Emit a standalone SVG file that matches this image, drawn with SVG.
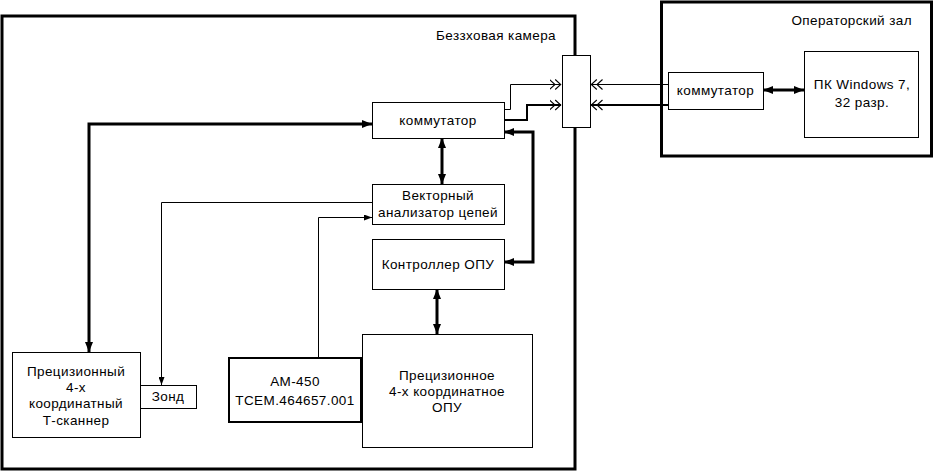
<svg xmlns="http://www.w3.org/2000/svg" width="934" height="473" viewBox="0 0 934 473">
<style>
text{font-family:"Liberation Sans",Arial,sans-serif;font-size:13.5px;letter-spacing:0.4px;fill:#000;text-anchor:middle}
.lbl{text-anchor:end}
.frame{fill:none;stroke:#000;stroke-width:3}
.box{fill:#fff;stroke:#000;stroke-width:1}
.thin{fill:none;stroke:#000;stroke-width:1}
.mid{fill:none;stroke:#000;stroke-width:2}
.thick{fill:none;stroke:#000;stroke-width:3}
</style>
<defs>
<marker id="arr" viewBox="0 0 10 8" refX="10" refY="4" markerWidth="10" markerHeight="8" markerUnits="userSpaceOnUse" orient="auto-start-reverse">
<path d="M0,0 L10,4 L0,8 z" fill="#000"/>
</marker>
<marker id="arrs" viewBox="0 0 8 6" refX="8" refY="3" markerWidth="8" markerHeight="6" markerUnits="userSpaceOnUse" orient="auto-start-reverse">
<path d="M0,0 L8,3 L0,6 z" fill="#000"/>
</marker>
<marker id="chev" viewBox="0 -6 12 12" refX="11.5" refY="0" markerWidth="12" markerHeight="12" markerUnits="userSpaceOnUse" orient="auto">
<path d="M0,-5 L5.5,0 L0,5 M5.7,-5 L11.2,0 L5.7,5" fill="none" stroke="#000" stroke-width="1.1"/>
</marker>
</defs>

<g id="frame-chamber">
<rect class="frame" x="2" y="16" width="573" height="453"/>
<text class="lbl" x="556" y="40">Беззховая камера</text>
</g>
<g id="frame-operator">
<rect class="frame" x="661.5" y="2" width="270" height="154"/>
<text class="lbl" x="912" y="25">Операторский зал</text>
</g>

<g id="connectors">
<path class="thick" d="M372,124 H89 V352" marker-start="url(#arr)" marker-end="url(#arr)"/>
<path class="thick" d="M442,138 V184" marker-start="url(#arr)" marker-end="url(#arr)"/>
<path class="thick" d="M504,132 H533 V262 H504" marker-start="url(#arr)" marker-end="url(#arr)"/>
<path class="thick" d="M437,289 V334" marker-start="url(#arr)" marker-end="url(#arr)"/>
<path class="thick" d="M763,90 H804" marker-start="url(#arr)" marker-end="url(#arr)"/>
<path class="thin" d="M372,202.5 H161.5 V385" marker-end="url(#arrs)"/>
<path class="thin" d="M318.5,358 V217.5 H372" marker-end="url(#arrs)"/>
<path class="thin" d="M504,109.5 H510.5 V84.5 H561" marker-end="url(#chev)"/>
<path class="mid" d="M504,120 H527 V105 H561" marker-end="url(#chev)"/>
<path class="thin" d="M668,84.5 H591" marker-end="url(#chev)"/>
<path class="mid" d="M668,105 H591" marker-end="url(#chev)"/>
</g>

<g id="feedthrough">
<rect class="box" x="562.5" y="55.5" width="28" height="72"/>
</g>

<g id="switch-op">
<rect class="box" x="668.5" y="72.5" width="95" height="37"/>
<text x="715.5" y="95">коммутатор</text>
</g>
<g id="pc">
<rect class="box" x="804.5" y="51.5" width="114" height="86"/>
<text x="862" y="89">ПК Windows 7,</text>
<text x="862" y="107">32 разр.</text>
</g>

<g id="switch">
<rect class="box" x="372.5" y="102.5" width="132" height="36"/>
<text x="438" y="125">коммутатор</text>
</g>
<g id="vna">
<rect class="box" x="372.5" y="184.5" width="132" height="40"/>
<text x="438" y="200">Векторный</text>
<text x="438" y="217">анализатор цепей</text>
</g>
<g id="controller">
<rect class="box" x="372.5" y="239.5" width="132" height="50"/>
<text x="438" y="269">Контроллер ОПУ</text>
</g>
<g id="opu">
<rect class="box" x="362.5" y="334.5" width="170" height="113"/>
<text x="447" y="380">Прецизионное</text>
<text x="447" y="396">4-х координатное</text>
<text x="447" y="412">ОПУ</text>
</g>
<g id="am450">
<rect class="box" x="229" y="358" width="132" height="64" style="stroke-width:2"/>
<text x="295" y="386">АМ-450</text>
<text x="295" y="405">ТСЕМ.464657.001</text>
</g>
<g id="scanner">
<rect class="box" x="12.5" y="352.5" width="128" height="85"/>
<text x="76" y="376">Прецизионный</text>
<text x="76" y="392">4-х</text>
<text x="76" y="408">координатный</text>
<text x="76" y="425">Т-сканнер</text>
</g>
<g id="probe">
<rect class="box" x="140.5" y="385.5" width="56" height="23"/>
<text x="168" y="401">Зонд</text>
</g>
</svg>
